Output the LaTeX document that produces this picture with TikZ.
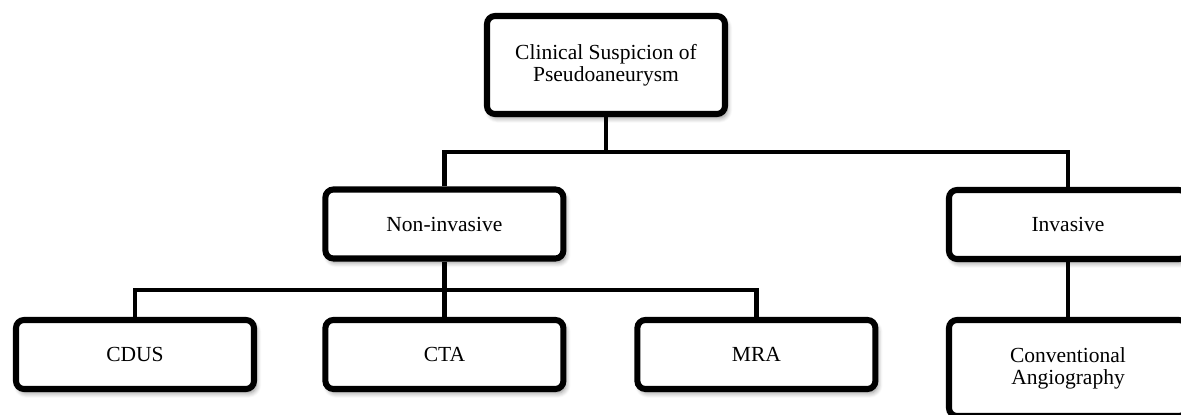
\documentclass[tikz,border=0pt]{standalone}
\usepackage{fontspec}
\setmainfont{Liberation Serif}
\usetikzlibrary{shadows.blur}
\begin{document}
\begin{tikzpicture}[font=\fontsize{15.3}{15.8}\selectfont,
  box/.style={draw,line width=4.3pt,rounded corners=0.2cm,fill=white,align=center,inner sep=0pt,
    minimum width=5.95cm,minimum height=1.725cm,
    blur shadow={shadow xshift=0.06cm,shadow yshift=-0.1cm,shadow blur steps=6,shadow blur radius=0.12cm,shadow opacity=45}},
  link/.style={line width=3pt}]
\clip (0,0) rectangle (29.525,10.375);

\node [box,minimum height=2.45cm] (suspicion) at (15.15,8.75) {Clinical Suspicion of\\Pseudoaneurysm};

\node [box] (noninv) at (11.11,4.775) {Non-invasive};
\node [box] (inv) at (26.7,4.7625) {Invasive};

\node [box] (cdus) at (3.375,1.5125) {CDUS};
\node [box] (cta) at (11.11,1.5125) {CTA};
\node [box] (mra) at (18.91,1.5125) {MRA};
\node [box,minimum height=2.4cm] (angio) at (26.7,1.175) {Conventional\\Angiography};

\coordinate (fork) at (15.15,6.575);
\coordinate (forknon) at (11.11,3.125);

\draw [link] (suspicion.south) -- (fork);
\draw [link] (noninv.north) |- (fork) -| (inv.north);

\draw [link] (noninv.south) -- (cta.north);
\draw [link] (cdus.north) |- (forknon) -| (mra.north);

\draw [link] (inv.south) -- (angio.north);

\end{tikzpicture}
\end{document}
